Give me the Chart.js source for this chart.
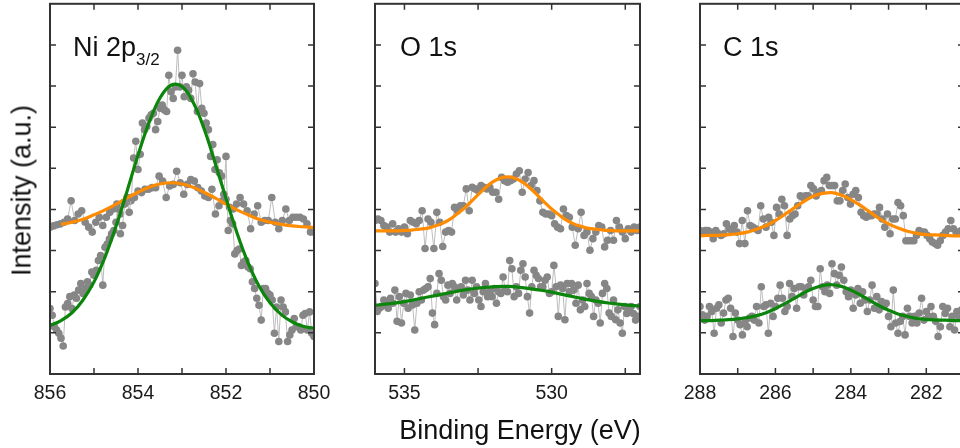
<!DOCTYPE html>
<html>
<head>
<meta charset="utf-8">
<script src="https://cdn.jsdelivr.net/npm/chart.js@4"></script>
<style>
  html, body { margin: 0; padding: 0; background: #fff; }
  body { width: 960px; height: 448px; overflow: hidden; position: relative;
         font-family: "Liberation Sans", Arial, sans-serif; color: #111; }
  canvas { position: absolute; top: 0; }
  .txt { position: absolute; font-size: 27px; line-height: 27px; white-space: nowrap; }
  .sub { font-size: 17px; position: relative; top: 9px; }
</style>
</head>
<body>
<canvas id="ni" width="340" height="448" style="left:0px"></canvas>
<canvas id="o" width="325" height="448" style="left:340px"></canvas>
<canvas id="c" width="325" height="448" style="left:665px"></canvas>

<div class="txt" style="left:73px; top:34px">Ni 2p<span class="sub">3/2</span></div>
<div class="txt" style="left:400px; top:34px">O 1s</div>
<div class="txt" style="left:723px; top:34px">C 1s</div>
<div class="txt" style="left:-128px; top:176.5px; width:300px; text-align:center; transform:rotate(-90deg)">Intensity (a.u.)</div>
<div class="txt" style="left:370px; top:416.5px; width:300px; text-align:center">Binding Energy (eV)</div>

<script>
// ---- Ni 2p3/2 ----
const niLabels = [856, 854, 852, 850];
const niTicks = [856, 855, 854, 853, 852, 851, 850];
// measured points (first energy, step in eV, intensities)
const niGreenStart = 856, niGreenStep = 0.05;
const niGreen = [1.59,1.43,1.15,1.07,0.99,0.87,0.68,1.63,1.71,1.88,
  1.59,1.92,1.84,2.04,2.20,1.96,2.08,2.24,2.16,2.48,
  2.40,2.52,2.76,2.88,2.16,3.08,3.16,3.28,3.41,3.49,
  3.69,4.01,3.41,3.61,4.13,4.29,3.93,4.29,5.25,5.66,
  4.97,5.34,6.10,5.94,6.02,6.22,6.30,6.34,5.94,6.14,
  6.46,6.54,6.42,6.38,7.26,6.86,6.70,6.98,7.87,6.98,
  7.26,6.74,6.98,6.90,6.70,7.30,7.10,6.38,7.06,6.46,
  6.34,6.10,5.94,5.29,5.58,4.97,5.21,4.89,4.81,4.37,
  5.29,3.49,3.73,3.65,2.92,3.00,3.04,2.64,2.72,2.76,
  2.60,2.56,2.24,2.08,1.84,1.67,1.31,2.08,2.08,1.96,
  1.92,1.80,0.99,1.63,0.79,1.80,1.63,1.51,0.79,0.95,
  1.07,1.35,1.15,1.15,1.07,1.43,1.47,1.07,1.51,0.99,
  0.91];
const niOrangeStart = 856, niOrangeStep = 0.08;
const niOrange = [3.57,3.60,3.63,3.65,3.69,3.77,4.21,3.73,3.89,3.97,
  3.69,3.57,3.45,3.69,3.81,3.61,3.81,3.93,4.01,4.13,
  3.89,4.17,4.19,4.21,4.29,4.45,4.41,4.49,4.49,4.53,
  4.53,4.81,4.69,4.29,4.57,4.61,4.93,4.65,4.37,4.61,
  4.73,4.69,4.53,4.45,4.33,4.29,4.49,3.89,4.09,4.21,
  4.25,4.05,4.01,4.13,4.29,4.13,3.97,3.53,3.89,4.09,
  3.69,3.73,3.73,4.29,3.69,3.53,3.73,4.01,3.73,3.81,
  3.81,3.81,3.77,3.65,3.45,3.45];
// fitted curves, every 0.25 eV
const niGreenFitStart = 856;
const niGreenFit = [1.18,1.30,1.49,1.80,2.24,2.84,3.59,4.44,5.32,6.11,6.71,7.02,6.99,
  6.61,5.97,5.14,4.27,3.43,2.71,2.14,1.73,1.45,1.27,1.16,1.11];
const niOrangeFitStart = 855.75;
const niOrangeFit = [3.64,3.69,3.76,3.87,3.99,4.13,4.28,4.42,4.54,4.62,4.65,4.62,
  4.54,4.42,4.28,4.13,3.99,3.87,3.76,3.69,3.64,3.60,3.58,3.56];

// ---- O 1s ----
const oLabels = [535, 530];
const oTicks = [535, 532.5, 530, 527.5];
const oOrangeStart = 536, oOrangeStep = 0.1;
const oOrange = [3.73,3.77,3.73,3.61,3.57,3.45,3.65,3.45,3.53,3.45,
  3.57,3.41,3.73,3.69,3.65,3.73,3.97,3.05,3.77,3.69,
  3.05,3.93,3.69,3.10,3.45,3.49,3.45,4.05,3.97,4.09,
  4.09,4.50,3.97,4.54,4.50,4.46,4.58,4.54,4.50,4.54,
  4.42,4.42,4.25,4.78,4.70,4.66,4.70,4.74,4.86,4.94,
  4.42,4.74,4.90,4.58,4.70,4.46,4.21,3.93,3.89,3.89,
  3.85,3.65,3.57,3.53,4.01,3.85,3.81,3.57,3.13,3.53,
  3.93,3.37,3.45,3.01,3.29,3.45,3.61,3.57,3.09,3.25,
  3.49,3.25,3.73,3.57,3.45,3.29,3.53,3.45,3.57,3.49,
  3.57];
const oGreenStart = 536, oGreenStep = 0.075;
const oGreen = [2.20,1.52,1.60,1.64,1.80,1.72,1.60,1.84,1.72,2.04,
  1.28,1.88,1.24,1.72,1.96,1.60,1.92,1.68,1.07,1.72,
  2.00,1.80,2.04,2.08,2.12,2.32,1.48,1.20,1.96,2.44,
  2.28,1.88,1.80,2.16,1.96,2.20,2.12,1.80,2.08,2.12,
  1.92,2.28,2.04,1.80,2.28,1.96,2.12,1.80,1.64,2.00,
  2.20,1.88,2.00,1.88,2.08,1.72,2.00,1.96,2.36,2.04,
  2.00,2.76,2.56,1.88,2.12,1.96,2.52,2.68,2.36,1.88,
  1.48,2.12,2.52,2.40,2.32,2.12,2.12,2.28,2.36,1.96,
  2.00,2.64,2.12,1.40,2.16,2.08,1.32,2.20,2.00,2.20,
  2.04,1.72,2.16,1.56,1.80,1.64,2.20,1.96,1.88,1.40,
  1.80,1.72,1.24,1.96,2.20,2.08,1.48,1.40,1.80,1.32,
  1.56,1.24,0.99,1.64,1.47,1.56,1.64,1.47,1.31,1.40,
  1.64];
const oOrangeFitStart = 536, oOrangeFitStep = 0.25;
const oOrangeFit = [3.48,3.48,3.48,3.48,3.49,3.50,3.52,3.54,3.59,3.65,3.74,3.87,4.01,
  4.18,4.36,4.53,4.67,4.76,4.79,4.76,4.67,4.53,4.36,4.18,4.01,3.87,3.74,3.65,3.59,
  3.54,3.52,3.50,3.49,3.48,3.48,3.48,3.48];
const oGreenFitStart = 536, oGreenFitStep = 0.5;
const oGreenFit = [1.67,1.71,1.76,1.83,1.90,1.97,2.04,2.09,2.12,2.13,2.10,2.05,1.99,
  1.91,1.84,1.77,1.72,1.68,1.65];

// ---- C 1s ----
const cLabels = [288, 286, 284, 282];
const cTicks = [288, 287, 286, 285, 284, 283, 282, 281];
const cOrangeStart = 288, cOrangeStep = 0.07;
const cOrange = [3.49,3.45,3.49,3.49,3.45,3.29,3.49,3.41,3.37,3.41,
  3.65,3.53,3.49,3.61,3.45,3.17,3.73,3.17,3.97,3.61,
  3.57,3.53,3.49,4.09,3.77,3.57,3.81,3.69,3.37,4.05,
  3.89,4.25,4.09,3.37,3.77,3.85,3.89,4.09,4.33,4.29,
  4.33,4.33,4.58,4.50,4.33,4.42,4.46,4.70,4.78,4.58,
  4.58,4.58,4.21,4.21,4.46,4.62,4.29,4.13,4.37,4.46,
  4.29,3.93,3.85,3.81,3.85,3.85,3.89,3.89,4.05,3.77,
  3.57,3.89,3.41,3.77,3.77,4.17,4.09,3.85,3.24,3.24,
  3.24,3.24,3.37,3.49,3.45,3.45,3.37,3.29,3.21,3.17,
  3.13,3.24,3.37,3.45,3.53,3.73,3.53,3.45,3.45,3.49,
  3.45];
const cGreenStart = 288, cGreenStep = 0.0625;
const cGreen = [1.64,1.44,1.31,1.40,1.64,1.52,0.99,1.60,1.68,1.24,
  1.48,1.80,1.84,1.60,0.91,1.48,1.31,1.20,0.95,1.24,
  1.15,1.36,1.40,1.31,1.64,1.24,2.12,1.64,1.68,0.99,
  1.72,1.40,1.64,1.84,2.16,1.84,1.52,1.64,2.20,1.88,
  2.08,1.60,2.12,2.12,1.92,2.08,2.12,2.28,1.80,1.64,
  1.64,2.56,2.12,2.00,2.16,1.96,2.68,2.44,2.16,2.40,
  2.60,2.28,2.00,1.88,2.04,1.60,1.92,2.08,1.72,2.00,
  1.80,1.52,1.80,2.16,1.60,1.88,1.56,1.76,1.64,1.72,
  1.40,1.15,2.04,1.24,0.99,1.28,1.40,0.95,1.60,1.40,
  1.24,1.40,1.24,1.48,1.84,1.31,1.52,1.40,1.64,1.40,
  1.28,0.91,1.15,1.64,1.47,1.60,1.15,1.40,1.07,1.52,
  1.40,1.56,1.40];
const cOrangeFitStart = 288;
const cOrangeFit = [3.36,3.37,3.37,3.39,3.41,3.45,3.52,3.61,3.73,3.88,4.04,4.19,4.32,
  4.39,4.41,4.35,4.24,4.10,3.94,3.78,3.65,3.55,3.47,3.42,3.39,3.38,3.37,3.36,3.36];
const cGreenFitStart = 288;
const cGreenFit = [1.30,1.30,1.31,1.32,1.34,1.37,1.42,1.49,1.59,1.71,1.84,1.97,2.08,
  2.15,2.17,2.13,2.04,1.92,1.79,1.66,1.55,1.46,1.40,1.35,1.33,1.31,1.31,1.30,1.30];

const yTicks = [1, 2, 3, 4, 5, 6, 7, 8];

const ORANGE = "#ff8c00";
const GREEN = "#0b850b";
const FONT = '"Liberation Sans", Arial, sans-serif';

// energies go down from start in fixed steps (spectrometer grid)
function pts(start, step, ys) {
  return ys.map((y, i) => ({ x: +(start - step * i).toFixed(4), y: y }));
}

function dots(data) {
  return {
    data: data, showLine: true, borderColor: "#bdbdbd", borderWidth: 1,
    pointRadius: 3.8, pointBackgroundColor: "#868686", pointBorderWidth: 0,
    pointHoverRadius: 0, order: 2
  };
}
function fit(data, color) {
  return {
    data: data, showLine: true, borderColor: color, borderWidth: 3.2,
    pointRadius: 0, tension: 0.4, order: 1
  };
}

// box + inward ticks on all four sides
const frame = {
  id: "frame",
  afterDatasetsDraw(chart, args, opts) {
    const ctx = chart.ctx, a = chart.chartArea;
    const xs = chart.scales.x, ys = chart.scales.y;
    ctx.save();
    ctx.strokeStyle = "#333";
    ctx.lineWidth = 1.5;
    ctx.beginPath();
    opts.ticks.forEach((v) => {
      const px = xs.getPixelForValue(v);
      ctx.moveTo(px, a.bottom); ctx.lineTo(px, a.bottom - 6);
      ctx.moveTo(px, a.top); ctx.lineTo(px, a.top + 6);
    });
    yTicks.forEach((v) => {
      const py = ys.getPixelForValue(v);
      ctx.moveTo(a.left, py); ctx.lineTo(a.left + 6, py);
      ctx.moveTo(a.right, py); ctx.lineTo(a.right - 6, py);
    });
    ctx.stroke();
    ctx.lineWidth = 2;
    ctx.strokeRect(a.left, a.top, a.right - a.left, a.bottom - a.top);
    ctx.restore();
  }
};

function panel(id, min, max, labels, ticks, datasets, padL, padR) {
  return new Chart(document.getElementById(id), {
    type: "scatter",
    data: { datasets: datasets },
    options: {
      responsive: false,
      animation: false,
      layout: { padding: { left: padL, right: padR, top: 2, bottom: 0 } },
      plugins: { legend: { display: false }, tooltip: { enabled: false }, frame: { ticks: ticks } },
      scales: {
        x: {
          type: "linear", min: min, max: max, reverse: true,
          grid: { display: false, drawTicks: false },
          border: { display: false },
          ticks: { font: { size: 19.5, family: FONT }, color: "#1a1a1a", padding: 8, maxRotation: 0, autoSkip: false },
          afterBuildTicks: (scale) => { scale.ticks = labels.map((v) => ({ value: v })); },
          afterFit: (scale) => { scale.height = 74; }
        },
        y: { type: "linear", min: 0, max: 9, display: false }
      }
    },
    plugins: [frame]
  });
}

panel("ni", 850, 856, niLabels, niTicks, [
  fit(pts(niGreenFitStart, 0.25, niGreenFit), GREEN),
  fit(pts(niOrangeFitStart, 0.25, niOrangeFit), ORANGE),
  dots(pts(niGreenStart, niGreenStep, niGreen)),
  dots(pts(niOrangeStart, niOrangeStep, niOrange))
], 50, 26);

panel("o", 527, 536, oLabels, oTicks, [
  fit(pts(oOrangeFitStart, oOrangeFitStep, oOrangeFit), ORANGE),
  fit(pts(oGreenFitStart, oGreenFitStep, oGreenFit), GREEN),
  dots(pts(oOrangeStart, oOrangeStep, oOrange)),
  dots(pts(oGreenStart, oGreenStep, oGreen))
], 35, 25);

panel("c", 281, 288, cLabels, cTicks, [
  fit(pts(cOrangeFitStart, 0.25, cOrangeFit), ORANGE),
  fit(pts(cGreenFitStart, 0.25, cGreenFit), GREEN),
  dots(pts(cOrangeStart, cOrangeStep, cOrange)),
  dots(pts(cGreenStart, cGreenStep, cGreen))
], 35, 26);
</script>
</body>
</html>
